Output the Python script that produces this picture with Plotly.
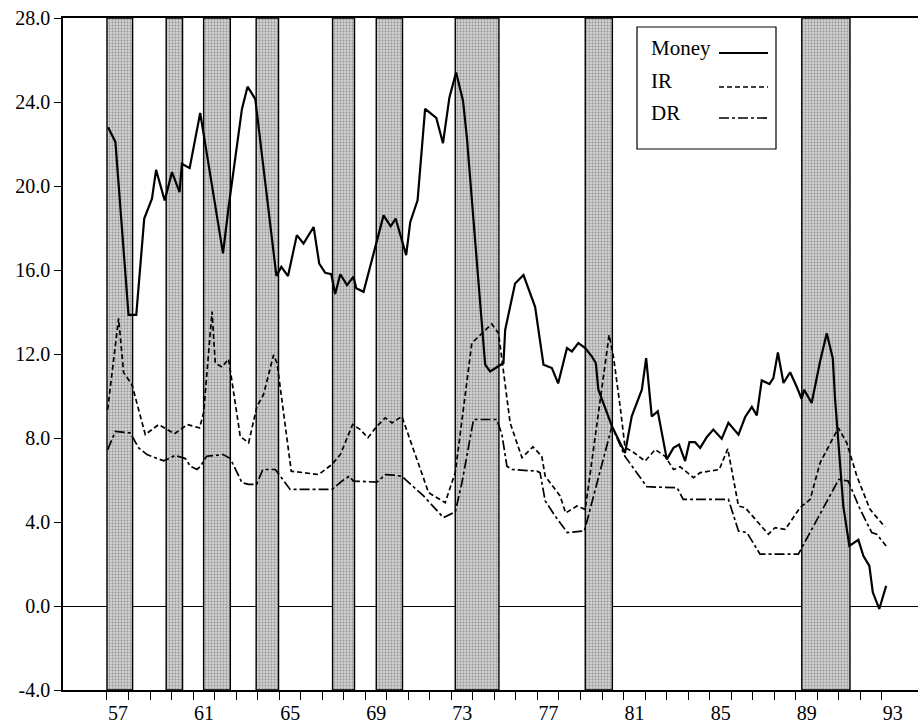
import plotly.graph_objects as go

# Recession periods (decimal years, start / end)
band_start = [57.00, 59.75, 61.49, 63.93, 67.48, 69.51, 73.18, 79.22, 89.28]
band_end = [58.19, 60.51, 62.73, 64.97, 68.50, 70.73, 75.21, 80.48, 91.52]

# Money growth
money_t = [57.05, 57.39, 58.00, 58.36, 58.73, 59.09, 59.28, 59.68, 60.02, 60.37,
           60.48, 60.84, 61.33, 62.39, 62.65, 62.96, 63.27, 63.53, 63.89, 64.87,
           65.10, 65.41, 65.82, 66.13, 66.60, 66.86, 67.14, 67.42, 67.60, 67.84,
           68.15, 68.45, 68.58, 68.92, 69.54, 69.85, 70.18, 70.41, 70.90, 71.09,
           71.43, 71.78, 72.30, 72.61, 72.91, 73.22, 73.54, 73.72, 74.19, 74.42,
           74.57, 74.80, 75.42, 75.50, 75.96, 76.35, 76.89, 77.28, 77.67, 77.96,
           78.37, 78.60, 78.90, 79.22, 79.53, 79.71, 79.83, 80.46, 81.07, 81.38,
           81.85, 82.05, 82.31, 82.59, 83.01, 83.32, 83.58, 83.86, 84.06, 84.32,
           84.56, 84.87, 85.17, 85.56, 85.87, 86.34, 86.65, 86.96, 87.19, 87.42,
           87.78, 87.96, 88.17, 88.43, 88.74, 89.05, 89.27, 89.39, 89.74, 90.13,
           90.44, 90.72, 90.83, 91.21, 91.49, 91.91, 92.14, 92.42, 92.58, 92.88,
           93.20]
money_v = [22.80, 22.10, 13.86, 13.86, 18.45, 19.40, 20.77, 19.31, 20.66, 19.71,
           21.06, 20.85, 23.48, 16.79, 19.00, 21.37, 23.67, 24.73, 24.14, 15.72,
           16.15, 15.71, 17.66, 17.26, 18.05, 16.31, 15.87, 15.80, 14.86, 15.80,
           15.28, 15.68, 15.13, 14.96, 17.34, 18.60, 18.08, 18.45, 16.71, 18.29,
           19.32, 23.67, 23.24, 22.04, 24.22, 25.41, 24.06, 22.32, 16.31, 13.15,
           11.49, 11.17, 11.57, 13.15, 15.36, 15.76, 14.25, 11.49, 11.33, 10.60,
           12.28, 12.12, 12.52, 12.28, 11.88, 11.57, 10.30, 8.56, 7.29, 9.03,
           10.30, 11.80, 9.03, 9.27, 6.98, 7.53, 7.69, 6.90, 7.80, 7.80,
           7.53, 8.05, 8.40, 7.96, 8.72, 8.16, 9.00, 9.48, 9.08, 10.74,
           10.57, 10.85, 12.07, 10.62, 11.13, 10.43, 9.87, 10.30, 9.67, 11.64,
           12.99, 11.80, 9.82, 4.76, 2.86, 3.15, 2.39, 1.91, 0.65, -0.14,
           0.96]

# IR
ir_t = [57.03, 57.54, 57.77, 58.16, 58.78, 59.40, 60.13, 60.74, 61.30, 61.49,
        61.88, 62.03, 62.34, 62.65, 63.19, 63.58, 63.97, 64.27, 64.74, 64.90,
        65.56, 66.83, 67.45, 67.84, 68.41, 68.77, 69.12, 69.54, 69.93, 70.24,
        70.70, 71.94, 72.71, 73.18, 73.95, 74.88, 75.19, 75.73, 76.28, 76.79,
        77.20, 77.36, 78.05, 78.31, 78.83, 79.22, 80.33, 80.53, 80.84, 81.07,
        81.46, 82.00, 82.47, 82.93, 83.32, 83.63, 84.25, 84.56, 85.45, 85.84,
        86.34, 86.65, 87.73, 88.04, 88.51, 89.20, 89.67, 90.13, 90.98, 91.37,
        91.84, 92.45, 93.15]
ir_v = [9.35, 13.70, 11.12, 10.54, 8.16, 8.64, 8.20, 8.64, 8.48, 9.20,
        14.02, 11.57, 11.38, 11.76, 8.08, 7.77, 9.51, 10.06, 11.96, 11.57,
        6.42, 6.26, 6.74, 7.21, 8.64, 8.40, 8.01, 8.56, 8.96, 8.72,
        9.03, 5.40, 4.92, 6.35, 12.52, 13.43, 12.99, 8.72, 7.06, 7.58,
        7.13, 6.18, 5.24, 4.43, 4.76, 4.60, 12.91, 11.88, 9.51, 7.55,
        7.32, 6.90, 7.45, 7.13, 6.50, 6.63, 6.11, 6.35, 6.50, 7.49,
        4.76, 4.68, 3.42, 3.73, 3.65, 4.68, 5.08, 6.82, 8.48, 7.77,
        6.18, 4.60, 3.76]

# DR
dr_t = [57.03, 57.39, 58.08, 58.47, 58.86, 59.63, 60.17, 60.64, 60.87, 61.18,
        61.33, 61.63, 62.40, 62.73, 63.27, 63.58, 63.95, 64.24, 64.82, 65.05,
        65.51, 67.45, 67.92, 68.25, 68.45, 69.54, 69.93, 70.31, 70.70, 71.71,
        72.63, 73.18, 73.49, 74.03, 75.11, 75.35, 75.58, 75.81, 76.97, 77.12,
        77.36, 77.82, 78.38, 79.18, 80.46, 81.07, 81.46, 82.08, 83.49, 83.77,
        85.87, 86.34, 86.73, 87.34, 89.12, 91.00, 91.44, 91.99, 92.53, 92.76,
        93.20]
dr_v = [7.45, 8.31, 8.24, 7.53, 7.21, 6.91, 7.17, 7.02, 6.66, 6.50,
        6.64, 7.13, 7.21, 7.02, 5.87, 5.79, 5.79, 6.50, 6.50, 6.18,
        5.55, 5.55, 5.95, 6.18, 5.95, 5.90, 6.26, 6.23, 6.18, 5.24,
        4.21, 4.48, 5.87, 8.88, 8.88, 8.16, 6.66, 6.50, 6.42, 6.35,
        5.00, 4.29, 3.50, 3.57, 8.56, 7.12, 6.58, 5.68, 5.63, 5.08,
        5.08, 3.57, 3.50, 2.47, 2.47, 6.03, 5.95, 4.60, 3.50, 3.42,
        2.86]

# Axis ticks
year_ticks = list(range(57, 94))
year_labels = [str(y) if (y - 57) % 4 == 0 else "" for y in year_ticks]
y_ticks = [-4, 0, 4, 8, 12, 16, 20, 24, 28]
y_labels = ["-4.0", "0.0", "4.0", "8.0", "12.0", "16.0", "20.0", "24.0", "28.0"]

Y_MIN, Y_MAX = -4, 28
SERIF = "Liberation Serif, Times New Roman, serif"

fig = go.Figure()

# Shaded recession bands
fig.add_trace(go.Bar(
    x=[(s + e) / 2 for s, e in zip(band_start, band_end)],
    y=[Y_MAX - Y_MIN] * len(band_start),
    base=[Y_MIN] * len(band_start),
    width=[e - s for s, e in zip(band_start, band_end)],
    marker=dict(
        color="#b8b8b8",
        line=dict(color="black", width=1.4),
        pattern=dict(shape=".", fgcolor="#555555", bgcolor="#d0d0d0",
                     size=3, solidity=0.3),
    ),
    showlegend=False,
    hoverinfo="skip",
))

fig.add_trace(go.Scatter(x=dr_t, y=dr_v, mode="lines", name="DR",
                         line=dict(color="black", width=1.7,
                                   dash="10px,3px,3px,3px")))
fig.add_trace(go.Scatter(x=ir_t, y=ir_v, mode="lines", name="IR",
                         line=dict(color="black", width=1.7, dash="5px,3px")))
fig.add_trace(go.Scatter(x=money_t, y=money_v, mode="lines", name="Money",
                         line=dict(color="black", width=2.2)))

fig.update_layout(
    width=918, height=724,
    margin=dict(l=63, r=0, t=18, b=34, pad=0),
    paper_bgcolor="white", plot_bgcolor="white",
    showlegend=False,
    barmode="overlay",
    font=dict(family=SERIF, size=20, color="black"),
    xaxis=dict(
        range=[54.956, 94.68], tickmode="array",
        tickvals=year_ticks, ticktext=year_labels,
        ticks="outside", ticklen=8, tickwidth=1.2, tickcolor="black",
        ticklabelshift=11, ticklabelstandoff=-4,
        showgrid=False, zeroline=False,
        showline=True, linecolor="black", linewidth=1.5, mirror=True,
        automargin=False,
        tickfont=dict(family=SERIF, size=20),
    ),
    yaxis=dict(
        range=[Y_MIN, Y_MAX], tickmode="array",
        tickvals=y_ticks, ticktext=y_labels,
        ticks="outside", ticklen=7, tickwidth=1.2, tickcolor="black",
        showgrid=False,
        zeroline=True, zerolinecolor="black", zerolinewidth=1.2,
        showline=True, linecolor="black", linewidth=1.5,
        automargin=False,
        tickfont=dict(family=SERIF, size=20),
    ),
)

# Legend box: label on the left, line sample on the right
def px_x(p):
    return (p - 63) / 855


def px_y(p):
    return (690 - p) / 672


fig.add_shape(type="rect", xref="paper", yref="paper",
              x0=px_x(637), x1=px_x(776), y0=px_y(149), y1=px_y(27),
              line=dict(color="black", width=1.2), fillcolor="white", layer="above")

legend_rows = [("Money", 48, 53, "solid"),
               ("IR", 81, 87, "5px,3px"),
               ("DR", 113, 118, "10px,3px,3px,3px")]
for label, ty, ly, dash in legend_rows:
    fig.add_annotation(x=px_x(649), y=px_y(ty), xref="paper", yref="paper",
                       text=label, showarrow=False, xanchor="left", yanchor="middle",
                       font=dict(family=SERIF, size=21, color="black"))
    fig.add_shape(type="line", xref="paper", yref="paper",
                  x0=px_x(719), x1=px_x(768), y0=px_y(ly), y1=px_y(ly),
                  line=dict(color="black", width=1.7 if label != "Money" else 2.2,
                            dash=dash),
                  layer="above")

fig.write_html("out.html")
